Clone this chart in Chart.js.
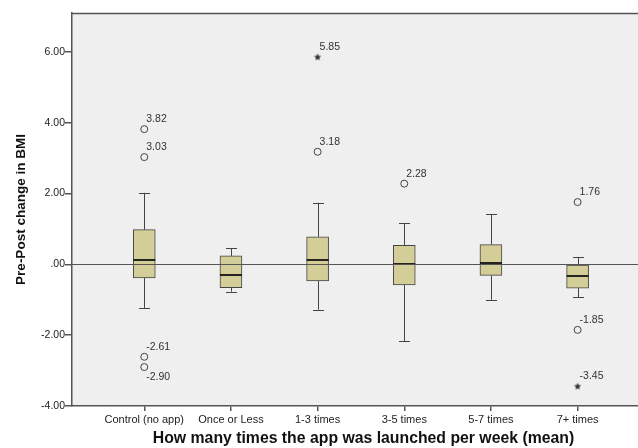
<!DOCTYPE html>
<html>
<head>
<meta charset="utf-8">
<script src="https://cdn.jsdelivr.net/npm/chart.js@4.4.0/dist/chart.umd.min.js"></script>
<style>
  html, body { margin: 0; padding: 0; background: #fff; overflow: hidden; }
  #wrap { width: 660px; height: 448px; position: relative; }
</style>
</head>
<body>
<div id="wrap"><canvas id="chart"></canvas></div>
<script>
// box plot values
const categories = ['Control (no app)', 'Once or Less', '1-3 times', '3-5 times', '5-7 times', '7+ times'];
const whiskerLow = [-1.23, -0.77, -1.28, -2.17, -1.00, -0.93];
const q1 = [-0.38, -0.66, -0.47, -0.58, -0.31, -0.67];
const medians = [0.13, -0.30, 0.11, 0.00, 0.03, -0.34];
const q3 = [0.98, 0.24, 0.78, 0.54, 0.56, -0.02];
const whiskerHigh = [2.02, 0.45, 1.74, 1.16, 1.42, 0.21];

// outliers (circles) and extremes (stars)
const outlierGroup = [0, 0, 0, 0, 2, 3, 5, 5];
const outlierValues = [3.82, 3.03, -2.61, -2.90, 3.18, 2.28, 1.76, -1.85];
const outlierBelow = [false, false, false, true, false, false, false, false];
const extremeGroup = [2, 5];
const extremeValues = [5.85, -3.45];

const yTicks = [-4, -2, 0, 2, 4, 6];

const FONT = '"Liberation Sans", Arial, sans-serif';
const LINE = '#444';

function makeStar(r) {
  const c = document.createElement('canvas');
  c.width = c.height = Math.ceil(r * 2 + 2);
  const g = c.getContext('2d');
  const cx = c.width / 2, cy = c.height / 2;
  g.beginPath();
  for (let k = 0; k < 10; k++) {
    const rad = k % 2 === 0 ? r : r * 0.45;
    const a = -Math.PI / 2 + k * Math.PI / 5;
    g.lineTo(cx + rad * Math.cos(a), cy + rad * Math.sin(a));
  }
  g.closePath();
  g.fillStyle = '#333';
  g.fill();
  return c;
}

const boxExtras = {
  id: 'boxExtras',
  beforeDraw(chart) {
    const { ctx, chartArea: a } = chart;
    ctx.save();
    ctx.fillStyle = '#efefef';
    ctx.fillRect(a.left, a.top, a.right - a.left, a.bottom - a.top);
    ctx.strokeStyle = '#555';
    ctx.lineWidth = 1.5;
    ctx.beginPath();
    ctx.moveTo(a.left, a.top + 0.5);
    ctx.lineTo(a.right, a.top + 0.5);
    ctx.stroke();
    ctx.restore();
  },
  beforeDatasetsDraw(chart) {
    // whiskers and caps, under the boxes
    const { ctx, scales: { x, y } } = chart;
    ctx.save();
    ctx.strokeStyle = LINE;
    ctx.lineWidth = 1;
    categories.forEach((c, i) => {
      const px = Math.round(x.getPixelForValue(i)) + 0.5;
      [[q3[i], whiskerHigh[i]], [q1[i], whiskerLow[i]]].forEach(([from, to]) => {
        ctx.beginPath();
        ctx.moveTo(px, y.getPixelForValue(from));
        ctx.lineTo(px, y.getPixelForValue(to));
        ctx.stroke();
        const py = Math.round(y.getPixelForValue(to)) + 0.5;
        ctx.beginPath();
        ctx.moveTo(px - 5.5, py);
        ctx.lineTo(px + 5.5, py);
        ctx.stroke();
      });
    });
    ctx.restore();
  },
  afterDatasetsDraw(chart) {
    const { ctx, chartArea: a, scales: { x, y } } = chart;
    ctx.save();
    // medians
    ctx.strokeStyle = '#111';
    ctx.lineWidth = 1.8;
    categories.forEach((c, i) => {
      const px = x.getPixelForValue(i);
      const py = Math.round(y.getPixelForValue(medians[i]));
      ctx.beginPath();
      ctx.moveTo(px - 11, py);
      ctx.lineTo(px + 11, py);
      ctx.stroke();
    });
    // reference line at zero
    const y0 = Math.round(y.getPixelForValue(0)) + 0.5;
    ctx.strokeStyle = '#555';
    ctx.lineWidth = 1.2;
    ctx.beginPath();
    ctx.moveTo(a.left, y0);
    ctx.lineTo(a.right, y0);
    ctx.stroke();
    // value labels
    ctx.fillStyle = '#333';
    ctx.font = '10.5px ' + FONT;
    ctx.textAlign = 'left';
    ctx.textBaseline = 'middle';
    outlierValues.forEach((v, k) => {
      const px = x.getPixelForValue(outlierGroup[k]);
      const py = y.getPixelForValue(v);
      ctx.fillText(v.toFixed(2), px + 2, py + (outlierBelow[k] ? 10 : -10));
    });
    extremeValues.forEach((v, k) => {
      const px = x.getPixelForValue(extremeGroup[k]);
      const py = y.getPixelForValue(v);
      ctx.fillText(v.toFixed(2), px + 2, py - 10);
    });
    ctx.restore();
  }
};

new Chart(document.getElementById('chart'), {
  data: {
    datasets: [
      {
        type: 'bar',
        data: categories.map((c, i) => ({ x: i, y: [q1[i], q3[i]] })),
        backgroundColor: '#d3cd97',
        borderColor: LINE,
        borderWidth: 1,
        borderSkipped: false,
        barThickness: 22
      },
      {
        type: 'scatter',
        data: outlierValues.map((v, k) => ({ x: outlierGroup[k], y: v })),
        pointStyle: 'circle',
        radius: 3.5,
        borderColor: LINE,
        borderWidth: 1,
        backgroundColor: 'rgba(0,0,0,0)'
      },
      {
        type: 'scatter',
        data: extremeValues.map((v, k) => ({ x: extremeGroup[k], y: v })),
        pointStyle: makeStar(3.8),
        radius: 4
      }
    ]
  },
  plugins: [boxExtras],
  options: {
    responsive: true,
    maintainAspectRatio: false,
    animation: false,
    layout: { padding: { top: 13, left: 0, right: 0, bottom: 0 } },
    plugins: { legend: { display: false }, tooltip: { enabled: false } },
    scales: {
      x: {
        type: 'linear',
        offset: false,
        min: -0.834,
        max: 5.893,
        afterBuildTicks: s => { s.ticks = categories.map((c, i) => ({ value: i })); },
        afterFit: s => { s.height = 42; },
        ticks: {
          callback: v => categories[v],
          font: { size: 11, family: FONT },
          color: '#222',
          padding: 2,
          maxRotation: 0,
          autoSkip: false
        },
        grid: { offset: false, drawOnChartArea: false, tickLength: 5, color: '#555', lineWidth: 1.5 },
        border: { color: '#555', width: 1.5 },
        title: {
          display: true,
          text: 'How many times the app was launched per week (mean)',
          font: { size: 15.8, weight: 'bold', family: FONT },
          color: '#111',
          padding: { top: 3, bottom: 0 }
        }
      },
      y: {
        min: -4,
        max: 7.1,
        afterBuildTicks: s => { s.ticks = yTicks.map(v => ({ value: v })); },
        afterFit: s => { s.width = 72; },
        ticks: {
          callback: v => v === 0 ? '.00' : v.toFixed(2),
          font: { size: 10.5, family: FONT },
          color: '#222',
          padding: 0
        },
        grid: { drawOnChartArea: false, tickLength: 7, color: '#555', lineWidth: 1.5 },
        border: { color: '#555', width: 1.5 },
        title: {
          display: true,
          text: 'Pre-Post change in BMI',
          font: { size: 13.5, weight: 'bold', family: FONT },
          color: '#111',
          padding: { top: 13, bottom: 0 }
        }
      }
    }
  }
});
</script>
</body>
</html>
